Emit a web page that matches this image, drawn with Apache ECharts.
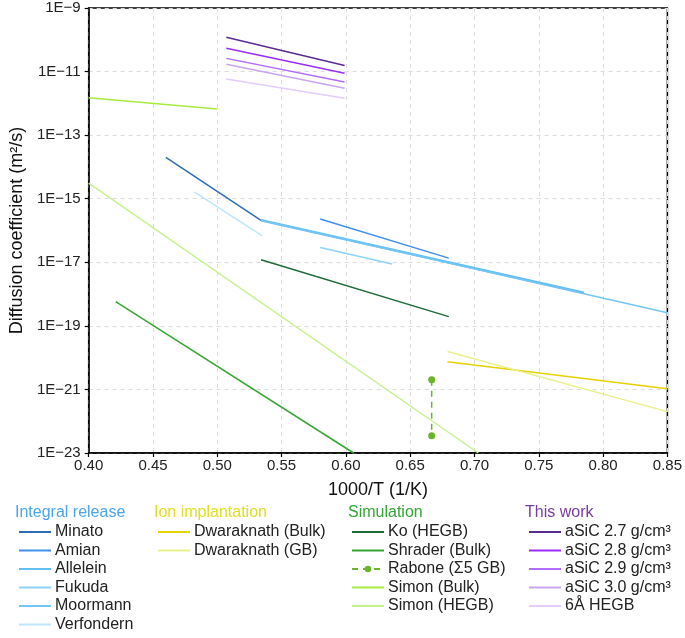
<!DOCTYPE html>
<html><head><meta charset="utf-8">
<script src="https://cdn.jsdelivr.net/npm/echarts@6/dist/echarts.min.js"></script>
<style>html,body{margin:0;padding:0;background:#fff}#c{width:685px;height:638px}</style>
</head><body><div id="c"></div>
<script>
// x = 1000/T (1/K), y = diffusion coefficient (m^2/s)
const xTicks = [0.40,0.45,0.50,0.55,0.60,0.65,0.70,0.75,0.80,0.85];
const yTickExps = [-23,-21,-19,-17,-15,-13,-11,-9];

// Integral release
const minato     = [[0.460, 2.0e-14], [0.534, 2.1e-16]];
const amian      = [[0.580, 2.3e-16], [0.680, 1.35e-17]];
const allelein   = [[0.534, 2.1e-16], [0.785, 1.1e-18]];
const fukuda     = [[0.580, 2.9e-17], [0.636, 8.9e-18]];
const moormann   = [[0.534, 2.1e-16], [0.850, 2.6e-19]];
const verfondern = [[0.482, 1.65e-15], [0.535, 6.8e-17]];
// Ion implantation
const dwarBulk   = [[0.679, 7.4e-21], [0.850, 1.05e-21]];
const dwarGB     = [[0.679, 1.55e-20], [0.850, 2.0e-22]];
// Simulation
const koHEGB     = [[0.534, 1.2e-17], [0.680, 1.95e-19]];
const shrader    = [[0.421, 5.8e-19], [0.6060, 1.0e-23]];
const rabone     = [[0.6667, 2.0e-21], [0.6667, 3.5e-23]];
const simonBulk  = [[0.400, 1.5e-12], [0.500, 6.6e-13]];
const simonHEGB  = [[0.400, 3.1e-15], [0.7030, 1.0e-23]];
// This work
const asic27     = [[0.507, 1.2e-10], [0.599, 1.55e-11]];
const asic28     = [[0.507, 5.4e-11], [0.599, 8.9e-12]];
const asic29     = [[0.507, 2.6e-11], [0.599, 4.7e-12]];
const asic30     = [[0.507, 1.7e-11], [0.599, 3.0e-12]];
const hegb6A     = [[0.507, 5.8e-12], [0.599, 1.45e-12]];

const groups = [
  {title:'Integral release', color:'#4aa6ea', left:18, items:[
    ['Minato', minato, '#2d6db5', 1.5],
    ['Amian', amian, '#3f8fee', 1.5],
    ['Allelein', allelein, '#62bff2', 2.6],
    ['Fukuda', fukuda, '#8dd3f7', 1.5],
    ['Moormann', moormann, '#74c6f2', 1.5],
    ['Verfondern', verfondern, '#bfe6f8', 1.5]]},
  {title:'Ion implantation', color:'#e3df1c', left:157, items:[
    ['Dwaraknath (Bulk)', dwarBulk, '#e6d200', 1.5],
    ['Dwaraknath (GB)', dwarGB, '#eaf08e', 1.5]]},
  {title:'Simulation', color:'#35a535', left:351, items:[
    ['Ko (HEGB)', koHEGB, '#1f6b38', 1.5],
    ['Shrader (Bulk)', shrader, '#38a636', 1.5],
    ['Rabone (\u03A35 GB)', rabone, '#6ab52c', 1.5, true],
    ['Simon (Bulk)', simonBulk, '#a9ec3e', 1.5],
    ['Simon (HEGB)', simonHEGB, '#c6f28e', 1.5]]},
  {title:'This work', color:'#7a3c9e', left:528, items:[
    ['aSiC 2.7 g/cm\u00B3', asic27, '#5a2c90', 1.5],
    ['aSiC 2.8 g/cm\u00B3', asic28, '#9a2ef8', 1.5],
    ['aSiC 2.9 g/cm\u00B3', asic29, '#b36cf7', 1.5],
    ['aSiC 3.0 g/cm\u00B3', asic30, '#c9a4f2', 1.5],
    ['6\u00C5 HEGB', hegb6A, '#e2cdfb', 1.5]]}
];

const FONT = '"Liberation Sans", Arial, sans-serif';
const series = [];
const legends = [];
const graphics = [];
const rowTop = 524;
groups.forEach(g => {
  g.items.forEach(it => {
    const [name, data, color, w, dashed] = it;
    series.push({
      name, type:'line', animation:false,
      data: data.map(p => [p[0], Math.log10(p[1])]),
      showSymbol: !!dashed, symbol: dashed ? 'circle' : 'none', symbolSize: 7,
      lineStyle:{color, width:w, type: dashed ? [6,5] : 'solid'},
      itemStyle:{color},
      emphasis:{disabled:true}
    });
  });
  legends.push({
    orient:'vertical', left:g.left, top:rowTop, height:140, itemWidth:32, itemHeight:8, itemGap:2.5,
    padding:0, selectedMode:false,
    itemStyle:{opacity:0},
    textStyle:{fontSize:16, color:'#222', fontFamily:FONT, padding:[0,0,0,-1]},
    data: g.items.map(it => it[4] ? {name:it[0], itemStyle:{opacity:1}} : {name:it[0]})
  });
  graphics.push({type:'text', left:g.left - 3, top:505,
    style:{text:g.title, fill:g.color, font:'16px ' + FONT}});
});

const chart = echarts.init(document.getElementById('c'), null, {renderer:'canvas'});
chart.setOption({
  backgroundColor:'#fff',
  animation:false,
  grid:{left:84, right:17, top:8, bottom:185, show:true, borderColor:'#000', borderWidth:1.5, backgroundColor:'transparent'},
  xAxis:{type:'value', min:xTicks[0], max:xTicks[xTicks.length-1], interval:0.05,
    name:'1000/T (1/K)', nameLocation:'middle', nameGap:28,
    nameTextStyle:{fontSize:18, color:'#111', fontFamily:FONT},
    axisLine:{show:true, onZero:false, lineStyle:{color:'#000', width:1.5}},
    axisTick:{show:true, inside:false, length:4, lineStyle:{color:'#000', width:1.2}},
    axisLabel:{fontSize:15, color:'#222', fontFamily:FONT, margin:5, formatter:v => v.toFixed(2)},
    splitLine:{show:true, lineStyle:{color:'#dcdcdc', type:[4,4], width:1}}},
  yAxis:{type:'value', min:yTickExps[0], max:yTickExps[yTickExps.length-1], interval:2,
    name:'Diffusion coefficient (m\u00B2/s)', nameLocation:'middle', nameGap:62, nameRotate:90,
    nameTextStyle:{fontSize:18, color:'#111', fontFamily:FONT},
    axisLine:{show:true, onZero:false, lineStyle:{color:'#000', width:1.5}},
    axisTick:{show:true, inside:false, length:4, lineStyle:{color:'#000', width:1.2}},
    axisLabel:{fontSize:15, color:'#222', fontFamily:FONT, margin:8, formatter:v => '1E\u2212' + (-v)},
    splitLine:{show:true, lineStyle:{color:'#dcdcdc', type:[4,4], width:1}}},
  legend: legends,
  graphic: graphics,
  series
});
</script></body></html>
